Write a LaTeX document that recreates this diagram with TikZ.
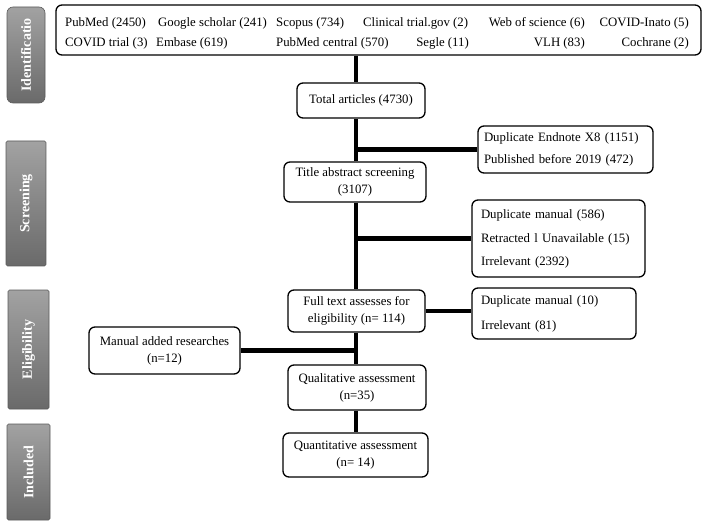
\documentclass[tikz,border=0pt]{standalone}
\usepackage{fontspec}
\setmainfont{Liberation Serif}
\usetikzlibrary{calc}
\definecolor{lbltop}{HTML}{A2A2A2}
\definecolor{lblbot}{HTML}{6A6A6A}
\definecolor{lblline}{HTML}{5A5A5A}
\begin{document}
\begin{tikzpicture}[x=1pt,y=-1pt,
  every node/.style={font=\fontsize{12.8}{17}\selectfont},
  flowbox/.style={draw=black, line width=1.3pt, rounded corners=6pt, fill=white, inner sep=0pt, align=center},
  sidebox/.style={flowbox, align=left, inner xsep=9pt},
  srcitem/.style={inner sep=0pt},
  phase/.style={draw=lblline, line width=0.6pt, top color=lbltop, bottom color=lblbot, inner sep=0pt},
  phasetext/.style={rotate=90, text=white, font=\fontsize{14}{16}\selectfont\bfseries},
  link/.style={line width=4.5pt, line cap=butt}]
\useasboundingbox (0,0) rectangle (705,524);

% phase labels
\node[phase, rounded corners=6pt, minimum width=38pt, minimum height=96pt] (pid) at (26,55) {};
\node[phasetext] (pidt) at (pid.center) {Identificatio};
\node[phase, rounded corners=1.5pt, minimum width=40pt, minimum height=125pt] (psc) at (26,203.5) {};
\node[phasetext] (psct) at (psc.center) {Screening};
\node[phase, rounded corners=1.5pt, minimum width=41pt, minimum height=119pt] (pel) at (28.5,349.5) {};
\node[phasetext] (pelt) at (pel.center) {Eligibility};
\node[phase, rounded corners=1.5pt, minimum width=43pt, minimum height=96pt] (pin) at (28.5,472) {};
\node[phasetext] (pint) at (pin.center) {Included};

% sources box
\node[flowbox, minimum width=645pt, minimum height=50pt] (src) at (378.5,30) {};
\node[srcitem, anchor=base west] (s1) at (65,27) {PubMed (2450)};
\node[srcitem, anchor=base west] (s2) at (158,27) {Google scholar (241)};
\node[srcitem, anchor=base west] (s3) at (276,27) {Scopus (734)};
\node[srcitem, anchor=base west] (s4) at (363,27) {Clinical trial.gov (2)};
\node[srcitem, anchor=base east] (s5) at (585,27) {Web of science (6)};
\node[srcitem, anchor=base east] (s6) at (689,27) {COVID-Inato (5)};
\node[srcitem, anchor=base west] (s7) at (65,47) {COVID trial (3)};
\node[srcitem, anchor=base west] (s8) at (156,47) {Embase (619)};
\node[srcitem, anchor=base west] (s9) at (276,47) {PubMed central (570)};
\node[srcitem, anchor=base east] (s10) at (469,47) {Segle (11)};
\node[srcitem, anchor=base east] (s11) at (585,47) {VLH (83)};
\node[srcitem, anchor=base east] (s12) at (689,47) {Cochrane (2)};

% main flow
\node[flowbox, minimum width=128pt, minimum height=35pt] (total) at (361,100.5) {Total articles (4730)};
\node[flowbox, minimum width=142pt, minimum height=40pt] (title) at (355,182) {Title abstract screening\\(3107)};
\node[flowbox, minimum width=137pt, minimum height=42pt] (full) at (356.5,311) {Full text assesses for\\eligibility (n= 114)};
\node[flowbox, minimum width=138pt, minimum height=45pt] (qual) at (357,387.5) {Qualitative assessment\\(n=35)};
\node[flowbox, minimum width=145pt, minimum height=44pt] (quant) at (355.5,455) {Quantitative assessment\\(n= 14)};

% side boxes
\node[sidebox, inner xsep=6pt, minimum width=175pt, minimum height=47pt, text width=163pt] (dupE) at (565.5,149.5)
  {Duplicate Endnote X8 (1151)\\[5pt]Published before 2019 (472)};
\node[sidebox, minimum width=173pt, minimum height=77pt, text width=155pt] (dupM) at (558.5,238.5)
  {Duplicate manual (586)\\[7pt]Retracted l Unavailable (15)\\[6pt]Irrelevant (2392)};
\node[sidebox, minimum width=164pt, minimum height=51pt, text width=146pt] (dupT) at (554,313.5)
  {Duplicate manual (10)\\[8pt]Irrelevant (81)};
\node[flowbox, minimum width=151pt, minimum height=47pt] (manual) at (164.5,350.5)
  {Manual added researches\\(n=12)};

% spine
\coordinate (sp) at (356,0);
\draw[link] (src.south -| sp) -- (total.north -| sp);
\draw[link] (total.south -| sp) -- (title.north -| sp);
\draw[link] (title.south -| sp) -- (full.north -| sp);
\draw[link] (full.south -| sp) -- (qual.north -| sp);
\draw[link] (qual.south -| sp) -- (quant.north -| sp);

% branches
\draw[link] (dupE.west -| sp) -- (dupE.west);
\draw[link] (dupM.west -| sp) -- (dupM.west);
\draw[link] (full.east) -- (full.east -| dupT.west);
\draw[link] (manual.east) -- (manual.east -| sp);
\end{tikzpicture}
\end{document}
